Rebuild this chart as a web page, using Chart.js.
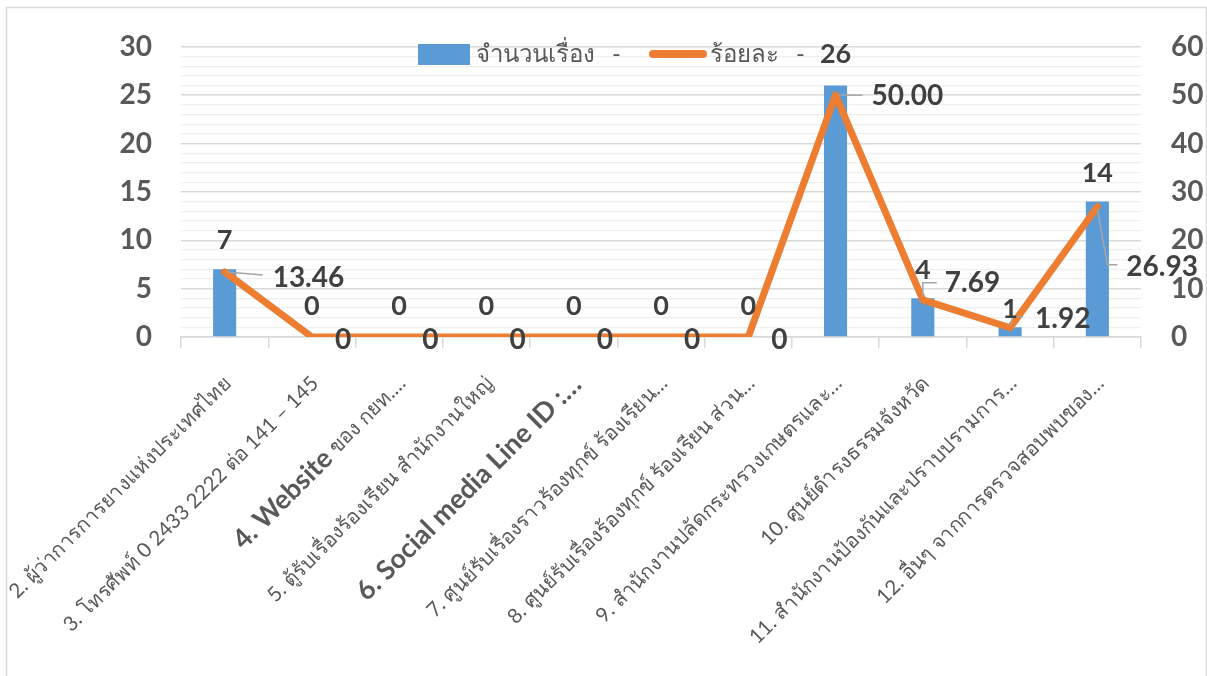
<!DOCTYPE html>
<html><head><meta charset="utf-8">
<script src="https://cdn.jsdelivr.net/npm/chart.js@4"></script>
<style>html,body{margin:0;padding:0;background:#fff;overflow:hidden}canvas{display:block}</style>
</head><body>
<canvas id="c" width="1207" height="676"></canvas>
<script>
// ---- data ----
const categories = [
  '2. ผู้ว่าการการยางแห่งประเทศไทย',
  '3. โทรศัพท์ 0 2433 2222 ต่อ 141 – 145',
  '4. Website ของ กยท.…',
  '5. ตู้รับเรื่องร้องเรียน สำนักงานใหญ่',
  '6. Social media Line ID :…',
  '7. ศูนย์รับเรื่องราวร้องทุกข์ ร้องเรียน…',
  '8. ศูนย์รับเรื่องร้องทุกข์ ร้องเรียน ส่วน…',
  '9. สำนักงานปลัดกระทรวงเกษตรและ…',
  '10. ศูนย์ดำรงธรรมจังหวัด',
  '11. สำนักงานป้องกันและปราบปรามการ…',
  '12. อื่นๆ จากการตรวจสอบพบของ…'
];
const countValues = [7, 0, 0, 0, 0, 0, 0, 26, 4, 1, 14];
const percentValues = [13.46, 0, 0, 0, 0, 0, 0, 50.00, 7.69, 1.92, 26.93];
const countTicks = [0, 5, 10, 15, 20, 25, 30];
const percentTicks = [0, 10, 20, 30, 40, 50, 60];
const seriesNames = ['จำนวนเรื่อง', 'ร้อยละ'];

// ---- styling ----
const boldPrefixes = ['', '', '4. Website', '', '6. Social media Line ID :…', '', '', '', '', '', ''];
const BLUE = '#5B9BD5', ORANGE = '#ED7D31', AXIS_TXT = '#595959', LBL_TXT = '#404040';
const FONT = "Lato, 'Noto Sans', sans-serif";
// label placement relative to its point (text left edge dx, text centre dy, leader path)
const lineLabelPlacement = [
  {dx: 48, dy: 6, leader: [[2, 0], [38, 3]]},
  {dx: 23, dy: 3}, {dx: 23, dy: 3}, {dx: 23, dy: 3}, {dx: 23, dy: 3}, {dx: 23, dy: 3}, {dx: 23, dy: 3},
  {dx: 36, dy: 1, leader: [[3, 0], [27, 0]]},
  {dx: 22, dy: -17, leader: [[0, -3], [0, -17], [14, -17]]},
  {dx: 25, dy: -9, leader: [[0, -2], [3, -11], [13, -11]]},
  {dx: 29, dy: 60, leader: [[0, 2], [10, 58], [20, 58]]}
];
const barLabelGap = [28.5, 31, 31, 31, 31, 31, 31, 31, 28.5, 18, 28.5];

const overlay = {
  id: 'overlay',
  afterDatasetsDraw(chart) {
    const ctx = chart.ctx;
    const xs = chart.scales.x;
    const bottom = chart.chartArea.bottom;
    ctx.save();
    // frame
    ctx.strokeStyle = '#d9d9d9'; ctx.lineWidth = 1.5;
    ctx.strokeRect(6.5, 7.5, 1200, 690);

    // x labels (rotated)
    categories.forEach((lab, i) => {
      const x = xs.getPixelForValue(i);
      const bp = boldPrefixes[i];
      const rest = bp ? lab.slice(bp.length) : lab;
      ctx.save();
      ctx.translate(x + 3, bottom + 43);
      ctx.rotate(-Math.PI / 4);
      ctx.fillStyle = AXIS_TXT;
      ctx.textBaseline = 'middle';
      ctx.textAlign = 'left';
      const bFont = 'bold 27px ' + FONT, nFont = '20.5px ' + FONT;
      ctx.font = bFont; const wb = bp ? ctx.measureText(bp).width : 0;
      ctx.font = nFont; const wr = ctx.measureText(rest).width;
      let sx = -(wb + wr);
      if (bp) { ctx.font = bFont; ctx.fillText(bp, sx, 0); sx += wb; }
      ctx.font = nFont; ctx.fillText(rest, sx, 0);
      ctx.restore();
    });

    // legend
    ctx.fillStyle = BLUE; ctx.fillRect(418, 44, 52, 21);
    ctx.font = '24px ' + FONT; ctx.fillStyle = AXIS_TXT; ctx.textBaseline = 'middle'; ctx.textAlign = 'left';
    ctx.fillText(seriesNames[0], 476, 54);
    ctx.fillText('-', 612, 54);
    ctx.strokeStyle = ORANGE; ctx.lineWidth = 8; ctx.lineCap = 'round';
    ctx.beginPath(); ctx.moveTo(653, 54); ctx.lineTo(703, 54); ctx.stroke();
    ctx.fillText(seriesNames[1], 710, 54);
    ctx.fillText('-', 796, 54);

    // line labels
    const lm = chart.getDatasetMeta(1);
    ctx.lineCap = 'butt';
    lm.data.forEach((pt, i) => {
      const p = lineLabelPlacement[i];
      if (p.leader) {
        ctx.strokeStyle = '#a6a6a6'; ctx.lineWidth = 1.5;
        ctx.beginPath();
        p.leader.forEach(([lx, ly], k) => k ? ctx.lineTo(pt.x + lx, pt.y + ly) : ctx.moveTo(pt.x + lx, pt.y + ly));
        ctx.stroke();
      }
      const v = percentValues[i];
      ctx.font = 'bold 28px ' + FONT; ctx.fillStyle = LBL_TXT;
      ctx.textAlign = 'left'; ctx.textBaseline = 'middle';
      ctx.fillText(v === 0 ? '0' : v.toFixed(2), pt.x + p.dx, pt.y + p.dy);
    });

    // bar labels
    const bm = chart.getDatasetMeta(0);
    bm.data.forEach((bar, i) => {
      ctx.font = 'bold 27px ' + FONT; ctx.fillStyle = LBL_TXT;
      ctx.textAlign = 'center'; ctx.textBaseline = 'middle';
      ctx.fillText(String(countValues[i]), bar.x, bar.y - barLabelGap[i]);
    });
    ctx.restore();
  }
};

new Chart(document.getElementById('c'), {
  type: 'bar',
  data: {
    labels: categories,
    datasets: [
      {type: 'bar', label: seriesNames[0], data: countValues, backgroundColor: BLUE,
       barPercentage: 0.265, categoryPercentage: 1, yAxisID: 'y', order: 2},
      {type: 'line', label: seriesNames[1], data: percentValues, borderColor: ORANGE, backgroundColor: ORANGE,
       borderWidth: 7, pointRadius: 0, borderCapStyle: 'round', borderJoinStyle: 'round', tension: 0,
       yAxisID: 'y1', order: 1}
    ]
  },
  options: {
    responsive: false, animation: false,
    layout: {padding: {top: 42, left: 6, right: 4, bottom: 0}},
    plugins: {legend: {display: false}, tooltip: {enabled: false}},
    scales: {
      x: {
        offset: true,
        grid: {display: true, drawOnChartArea: false, drawTicks: true, tickLength: 11, color: '#d9d9d9', lineWidth: 1.5, offset: true},
        border: {display: true, color: '#d9d9d9', width: 1.5},
        ticks: {display: false},
        afterFit: s => { s.height = 676 - 337; }
      },
      y: {
        position: 'left', min: 0, max: 30,
        ticks: {stepSize: 1, autoSkip: false, padding: 29, color: AXIS_TXT, font: {family: FONT, size: 28, weight: 'bold'},
                callback: v => countTicks.includes(v) ? String(v) : ''},
        grid: {drawTicks: false, color: c => (c.tick && c.tick.value % 5 === 0) ? '#d9d9d9' : '#efefef',
               lineWidth: c => (c.tick && c.tick.value % 5 === 0) ? 1.5 : 1.2},
        border: {display: false},
        afterFit: s => { s.width = 175; }
      },
      y1: {
        position: 'right', min: 0, max: 60,
        ticks: {stepSize: 10, padding: 30, color: AXIS_TXT, font: {family: FONT, size: 28, weight: 'bold'},
                callback: v => percentTicks.includes(v) ? String(v) : ''},
        grid: {drawOnChartArea: false, drawTicks: false},
        border: {display: false},
        afterFit: s => { s.width = 62; }
      }
    }
  },
  plugins: [overlay]
});
</script>
</body></html>
